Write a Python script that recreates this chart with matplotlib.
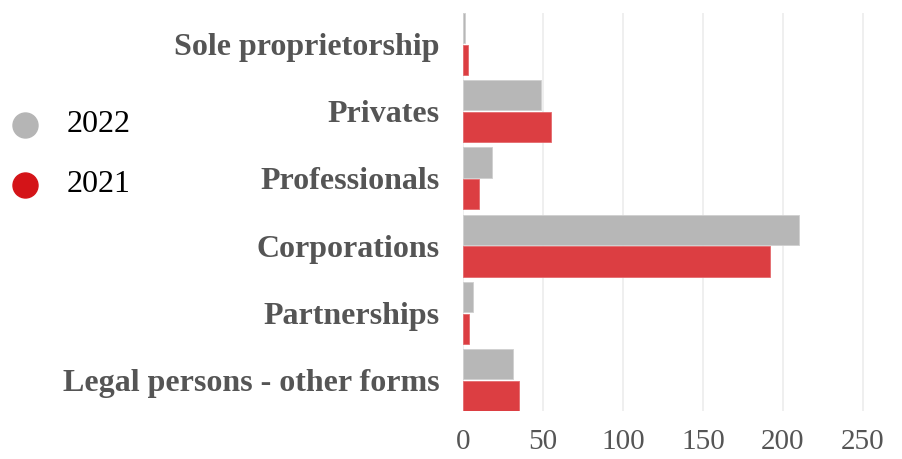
import numpy as np
import matplotlib.pyplot as plt
from matplotlib.lines import Line2D

categories = ['Sole proprietorship', 'Privates', 'Professionals',
              'Corporations', 'Partnerships', 'Legal persons - other forms']
values_2022 = [1, 49, 18, 210, 6, 31]
values_2021 = [3, 55, 10, 192, 4, 35]
xticks = [0, 50, 100, 150, 200, 250]
years = ['2022', '2021']

gray = '#b7b7b7'
red = '#dc3e42'
label_color = '#555555'
serif = ['Liberation Serif', 'DejaVu Serif']

W, H = 903, 459
fig = plt.figure(figsize=(W / 100, H / 100), dpi=100)
ax = fig.add_axes([463 / W, 1 - 411 / H, 424 / W, 398 / H])

y = np.arange(len(categories))
h = 0.45
ax.barh(y - 0.235, values_2022, height=h, color=gray, edgecolor='#d0d0d0', linewidth=0.6, zorder=3)
ax.barh(y + 0.235, values_2021, height=h, color=red, edgecolor='#e46a6d', linewidth=0.6, zorder=3)

ax.set_ylim(len(categories) - 0.54, -0.46)
ax.set_xlim(0, 265)
ax.set_yticks(y)
ax.set_yticklabels(categories, fontsize=23, fontweight='bold', color=label_color, family=serif)
ax.set_xticks(xticks)
ax.set_xticklabels([str(t) for t in xticks], fontsize=21, color=label_color, family=serif)
ax.tick_params(axis='y', length=0, pad=17)
ax.tick_params(axis='x', length=0, pad=13)
ax.grid(axis='x', color='#ececec', linewidth=1.2, zorder=0)
for s in ax.spines.values():
    s.set_visible(False)

# legend drawn by hand on the left
legend_colors = ['#b5b5b5', '#d41418']
for i, (yr, c) in enumerate(zip(years, legend_colors)):
    yc = 1 - (125 + 60 * i) / H
    fig.add_artist(Line2D([25 / W], [yc], marker='o', markersize=18, color=c,
                          linestyle='', transform=fig.transFigure))
    fig.text(67 / W, yc, yr, fontsize=23, family=serif, color='black', va='center')

fig.savefig('out.png', dpi=100)
